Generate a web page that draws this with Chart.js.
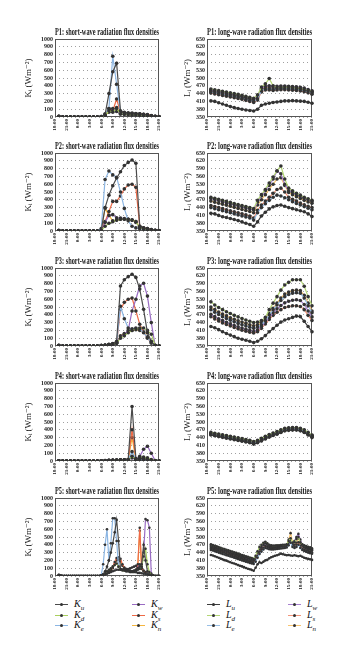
<!DOCTYPE html>
<html>
<head>
<meta charset="utf-8">
<script src="https://cdn.jsdelivr.net/npm/chart.js@4.4.1/dist/chart.umd.min.js"></script>
<style>
  body { margin: 0; background: #fff; width: 351px; height: 660px; position: relative; overflow: hidden; }
  canvas { position: absolute; }
  .it { position: absolute; height: 12px; width: 40px; }
  .it .ln { position: absolute; left: 0; top: 5.5px; width: 13px; height: 1.6px; }
  .it .dt { position: absolute; left: 5px; top: 4.8px; width: 3px; height: 3px; border-radius: 50%; background: #333; }
  .it .tx { position: absolute; left: 19px; top: 0; font: italic 10px "Liberation Serif", serif; line-height: 12px; color: #111; }
  .it .tx sub { font-size: 7px; color: #111; }
</style>
</head>
<body>
<script>
// time axis
const hours = ['18:00','19:00','20:00','21:00','22:00','23:00','0:00','1:00','2:00','3:00','4:00','5:00','6:00','7:00',
  '8:00','9:00','10:00','11:00','12:00','13:00','14:00','15:00','16:00','17:00','18:00','19:00','20:00','21:00'];
const halfHours = ['18:00','18:30','19:00','19:30','20:00','20:30','21:00','21:30','22:00','22:30','23:00','23:30',
  '0:00','0:30','1:00','1:30','2:00','2:30','3:00','3:30','4:00','4:30','5:00','5:30','6:00','6:30','7:00','7:30',
  '8:00','8:30','9:00','9:30','10:00','10:30','11:00','11:30','12:00','12:30','13:00','13:30','14:00','14:30',
  '15:00','15:30','16:00','16:30','17:00','17:30','18:00','18:30','19:00','19:30','20:00','20:30','21:00'];
const tickLabels = ['18:00','21:00','0:00','3:00','6:00','9:00','12:00','15:00','18:00','21:00'];

const swTicks = [0,100,200,300,400,500,600,700,800,900,1000];
const lwTicks = [350,380,410,440,470,500,530,560,590,620,650];

const dirs = ['u','d','e','w','s','n'];
const swColors = ['#4a4a4a','#a9cf5e','#8cb6e3','#9a6cc4','#ee6a47','#f5b640'];
const lwColors = ['#3c3c3c','#b3d674','#98bfe6','#a880d0','#f2967a','#f8c470'];

// P1
const p1Ku = [null,8,2,0,0,0,0,0,0,0,0,0,5,30,300,580,690,80,60,55,50,45,40,35,25,15,5,2];
const p1Kd = [null,5,0,0,0,0,0,0,0,0,0,0,3,20,80,60,110,40,35,30,30,30,25,20,15,10,5,0];
const p1Ke = [null,5,0,0,0,0,0,0,0,0,0,0,5,40,110,780,420,50,40,35,30,30,25,25,20,15,5,0];
const p1Kw = [null,5,0,0,0,0,0,0,0,0,0,0,3,25,100,110,70,40,35,35,30,30,25,20,15,10,5,0];
const p1Ks = [null,5,0,0,0,0,0,0,0,0,0,0,5,30,110,80,230,60,50,45,45,40,40,35,30,20,10,5];
const p1Kn = [null,8,0,0,0,0,0,0,0,0,0,0,3,25,60,100,120,55,50,45,40,40,35,30,25,15,8,3];

const p1Lu = [null,412,410,405,400,395,390,386,383,380,377,375,373,380,395,400,403,406,408,410,412,412,413,412,411,410,407,403];
const p1Ld = [null,458,455,452,449,446,443,440,437,434,430,426,422,435,465,478,498,470,463,464,465,465,464,463,461,458,453,448];
const p1Le = [null,446,443,440,437,434,431,428,425,422,418,414,410,420,450,458,458,456,458,459,459,458,457,456,454,451,447,442];
const p1Lw = [null,454,451,448,445,442,439,436,433,430,426,422,418,430,460,468,470,466,468,469,469,468,467,466,464,461,456,451];
const p1Ls = [null,442,439,436,433,430,427,424,421,418,414,410,406,415,446,454,454,452,454,455,455,454,453,452,450,447,443,438];
const p1Ln = [null,450,447,444,441,438,435,432,429,426,422,418,414,425,455,462,462,460,462,463,463,462,461,460,458,455,451,446];

// P2
const p2Ku = [null,5,0,0,0,0,0,0,0,0,0,0,10,300,460,580,680,760,840,880,910,870,60,40,30,20,10,3];
const p2Kd = [null,5,0,0,0,0,0,0,0,0,0,0,5,60,100,120,140,150,150,150,140,120,40,30,20,10,5,2];
const p2Ke = [null,5,0,0,0,0,0,0,0,0,0,0,30,660,770,720,690,500,290,130,60,40,30,25,15,10,5,2];
const p2Kw = [null,5,0,0,0,0,0,0,0,0,0,0,10,110,200,210,170,165,160,150,140,110,50,30,20,10,5,2];
const p2Ks = [null,5,0,0,0,0,0,0,0,0,0,0,20,120,250,380,380,450,540,590,600,560,60,40,30,20,10,5];
const p2Kn = [null,5,0,0,0,0,0,0,0,0,0,0,10,290,200,130,140,150,150,150,140,120,50,30,20,10,5,2];

const p2Lu = [null,418,416,410,405,402,398,394,390,385,380,375,368,385,408,422,435,443,448,450,445,440,436,432,428,424,416,406];
const p2Ld = [null,480,476,472,468,464,460,456,452,448,444,440,436,468,490,510,535,558,582,600,550,515,505,495,488,480,474,468];
const p2Le = [null,440,436,432,428,424,420,416,412,408,404,400,392,420,440,455,468,480,488,485,478,470,463,456,450,444,438,432];
const p2Lw = [null,475,471,467,463,459,455,451,447,443,439,435,431,462,485,505,525,550,580,570,530,505,498,490,483,476,470,464];
const p2Ls = [null,448,444,440,436,432,428,424,420,416,412,408,400,430,450,465,480,495,510,515,500,480,472,465,458,451,445,440];
const p2Ln = [null,465,461,457,453,449,445,441,437,433,429,425,420,450,470,490,510,530,550,555,525,498,490,482,475,468,462,457];

// P3
const p3Ku = [null,10,0,0,0,0,0,0,0,0,0,0,5,10,20,30,60,770,850,890,920,880,730,470,170,60,5,0];
const p3Kd = [null,5,0,0,0,0,0,0,0,0,0,0,5,10,20,25,40,100,130,170,200,220,230,230,200,150,10,0];
const p3Ke = [null,5,0,0,0,0,0,0,0,0,0,0,5,10,20,25,40,510,350,230,220,230,220,170,110,40,5,0];
const p3Kw = [null,5,0,0,0,0,0,0,0,0,0,0,5,10,20,25,40,120,150,200,450,600,770,805,640,300,5,0];
const p3Ks = [null,5,0,0,0,0,0,0,0,0,0,0,5,10,20,25,40,470,560,600,615,450,280,180,100,40,5,0];
const p3Kn = [null,5,0,0,0,0,0,0,0,0,0,0,5,10,20,25,40,130,160,180,200,210,200,180,120,50,5,0];

const p3Lu = [null,425,420,413,405,398,392,386,380,376,372,368,363,368,378,390,405,417,430,442,450,455,460,465,463,445,425,405];
const p3Ld = [null,520,508,498,490,482,475,468,462,456,450,445,440,442,448,460,490,515,540,565,585,595,605,605,605,580,540,505];
const p3Le = [null,490,480,471,463,456,449,443,437,432,427,422,418,423,432,448,470,490,508,525,540,548,553,555,553,535,505,478];
const p3Lw = [null,472,463,455,448,441,435,429,424,419,414,410,406,412,425,442,460,478,493,506,516,522,526,528,525,510,485,462];
const p3Ls = [null,463,454,446,439,433,427,421,416,411,407,403,400,405,418,435,452,468,480,490,498,502,505,505,502,490,468,448];
const p3Ln = [null,500,490,481,473,466,459,453,447,442,437,432,428,432,440,452,475,495,515,535,550,558,563,565,563,545,515,485];

// P4
const p4Ku = [null,3,0,0,0,0,0,0,0,0,0,0,3,5,8,10,12,14,15,20,700,30,35,30,20,10,3,0];
const p4Kd = [null,3,0,0,0,0,0,0,0,0,0,0,2,4,6,8,10,12,12,15,60,25,40,50,40,20,3,0];
const p4Ke = [null,3,0,0,0,0,0,0,0,0,0,0,3,5,8,10,12,13,14,15,120,20,20,15,10,5,2,0];
const p4Kw = [null,3,0,0,0,0,0,0,0,0,0,0,2,4,6,8,10,12,13,15,40,20,60,150,190,100,5,0];
const p4Ks = [null,3,0,0,0,0,0,0,0,0,0,0,2,4,6,8,10,12,13,15,400,20,25,20,15,8,2,0];
const p4Kn = [null,3,0,0,0,0,0,0,0,0,0,0,2,4,6,8,10,12,13,15,300,20,25,20,15,8,2,0];

const p4Lu = [null,450,447,444,441,438,435,432,429,426,423,420,415,420,427,435,442,448,453,460,466,468,469,469,466,460,450,440];
const p4Ld = [null,460,457,454,451,448,445,442,439,436,433,430,425,430,437,445,452,458,463,470,476,478,479,479,476,470,460,450];
const p4Le = [null,454,451,448,445,442,439,436,433,430,427,424,419,424,431,439,446,452,457,464,470,472,473,473,470,464,454,444];
const p4Lw = [null,458,455,452,449,446,443,440,437,434,431,428,423,428,435,443,450,456,461,468,474,476,477,477,474,468,458,448];
const p4Ls = [null,452,449,446,443,440,437,434,431,428,425,422,417,422,429,437,444,450,455,462,468,470,471,471,468,462,452,442];
const p4Ln = [null,456,453,450,447,444,441,438,435,432,429,426,421,426,433,441,448,454,459,466,472,474,475,475,472,466,456,446];

// P5 (half-hourly)
const p5Ku = [null,null,15,5,0,0,0,0,0,0,0,
  0,0,0,0,0,0,0,0,0,0,0,
  0,0,5,20,60,120,200,300,420,560,720,
  450,90,80,80,70,70,60,60,70,80,100,
  120,150,400,200,60,20,10,5,0,0,0];
const p5Kd = [null,null,10,3,0,0,0,0,0,0,0,
  0,0,0,0,0,0,0,0,0,0,0,
  0,0,3,15,40,60,80,100,120,140,160,
  120,80,70,70,60,60,55,55,60,70,80,
  90,120,250,350,150,50,20,5,0,0,0];
const p5Ke = [null,null,12,4,0,0,0,0,0,0,0,
  0,0,0,0,0,0,0,0,0,0,0,
  0,0,10,150,400,600,200,420,740,740,450,
  120,90,80,70,60,60,50,50,50,50,40,
  40,35,30,25,20,10,5,0,0,0,0];
const p5Kw = [null,null,8,3,0,0,0,0,0,0,0,
  0,0,0,0,0,0,0,0,0,0,0,
  0,0,3,10,20,30,40,50,60,70,80,
  80,80,80,80,90,90,100,110,120,130,100,
  150,120,300,730,715,620,30,5,0,0,0];
const p5Ks = [null,null,10,3,0,0,0,0,0,0,0,
  0,0,0,0,0,0,0,0,0,0,0,
  0,0,5,20,40,50,60,80,120,180,230,
  240,220,150,110,90,80,70,60,60,70,150,
  620,100,70,50,30,15,5,0,0,0,0];
const p5Kn = [null,null,12,4,0,0,0,0,0,0,0,
  0,0,0,0,0,0,0,0,0,0,0,
  0,0,5,20,40,50,60,70,100,150,200,
  210,190,130,100,80,70,60,55,55,65,120,
  580,90,60,40,25,10,5,0,0,0,0];

const p5Lu = [null,null,431,429,426,423,420,417,414,411,409,
  406,403,400,398,395,392,389,387,384,381,378,
  376,373,370,382,395,403,400,405,410,412,418,
  422,425,428,430,433,436,434,432,430,431,429,
  428,430,428,426,428,424,420,418,416,414,412];
const p5Ld = [null,null,472,469,466,464,461,459,456,454,451,
  449,446,444,441,439,436,434,431,429,426,424,
  421,419,416,428,445,462,470,478,482,476,470,
  468,467,467,468,468,469,470,470,472,485,495,
  478,480,492,500,480,472,468,465,462,460,457];
const p5Le = [null,null,450,448,445,443,440,438,435,433,430,
  428,425,423,420,418,415,413,410,408,405,403,
  400,398,396,405,420,435,444,452,458,456,453,
  452,452,453,454,455,456,457,458,460,468,478,
  462,458,462,470,458,450,446,443,440,438,436];
const p5Lw = [null,null,466,463,461,458,456,453,451,448,446,
  443,441,438,436,433,431,428,426,423,421,418,
  416,413,411,422,440,455,462,470,475,470,465,
  463,462,462,463,464,465,466,467,468,478,488,
  472,485,500,512,490,470,463,460,457,454,452];
const p5Ls = [null,null,456,453,451,448,446,443,441,438,436,
  433,431,428,426,423,421,418,416,413,411,408,
  406,403,401,410,428,442,450,458,465,462,458,
  457,457,458,459,460,461,462,463,465,475,485,
  468,462,470,480,465,456,452,449,446,443,441];
const p5Ln = [null,null,462,459,457,454,452,449,447,444,442,
  439,437,434,432,429,427,424,422,419,417,414,
  412,409,407,418,435,450,458,468,480,472,464,
  462,461,461,462,463,464,465,466,470,490,515,
  480,470,478,495,475,465,460,457,454,451,449];

const panels = [
  { sw: [p1Ku,p1Kd,p1Ke,p1Kw,p1Ks,p1Kn], lw: [p1Lu,p1Ld,p1Le,p1Lw,p1Ls,p1Ln], labels: hours },
  { sw: [p2Ku,p2Kd,p2Ke,p2Kw,p2Ks,p2Kn], lw: [p2Lu,p2Ld,p2Le,p2Lw,p2Ls,p2Ln], labels: hours },
  { sw: [p3Ku,p3Kd,p3Ke,p3Kw,p3Ks,p3Kn], lw: [p3Lu,p3Ld,p3Le,p3Lw,p3Ls,p3Ln], labels: hours },
  { sw: [p4Ku,p4Kd,p4Ke,p4Kw,p4Ks,p4Kn], lw: [p4Lu,p4Ld,p4Le,p4Lw,p4Ls,p4Ln], labels: hours },
  { sw: [p5Ku,p5Kd,p5Ke,p5Kw,p5Ks,p5Kn], lw: [p5Lu,p5Ld,p5Le,p5Lw,p5Ls,p5Ln], labels: halfHours },
];

const plotTops = [39, 153, 268, 383, 498];
const serif = '"Liberation Serif", "DejaVu Serif", serif';

// plot frame
const frame = {
  id: 'frame',
  beforeDatasetsDraw(chart) {
    const a = chart.chartArea, c = chart.ctx;
    c.save();
    c.strokeStyle = '#555';
    c.lineWidth = 1;
    c.strokeRect(Math.round(a.left) + 0.5, Math.round(a.top) + 0.5,
      Math.round(a.right - a.left) - 1, Math.round(a.bottom - a.top) - 1);
    c.restore();
  }
};

function makeChart(p, col) {
  const pan = panels[p];
  const isSw = col === 0;
  const series = isSw ? pan.sw : pan.lw;
  const colors = isSw ? swColors : lwColors;
  const letter = isSw ? 'K' : 'L';
  const step = pan.labels.length > 30 ? 6 : 3;
  const cv = document.createElement('canvas');
  const left = isSw ? 14 : 175;
  const w = isSw ? 153 : 145;
  cv.width = w; cv.height = 110;
  cv.style.left = left + 'px';
  cv.style.top = (plotTops[p] - 12) + 'px';
  cv.style.width = w + 'px'; cv.style.height = '110px';
  document.body.appendChild(cv);

  const ticks = isSw ? swTicks : lwTicks;
  const padL = isSw ? 9 : 7;   // room left of the rotated axis title
  new Chart(cv, {
    type: 'line',
    data: {
      labels: pan.labels,
      datasets: series.map((d, i) => ({
        label: letter + dirs[i],
        data: d,
        borderColor: colors[i],
        backgroundColor: colors[i],
        borderWidth: 1.2,
        pointRadius: p === 4 ? 1.3 : 1.8,
        pointBackgroundColor: '#333',
        pointBorderColor: '#333',
        pointBorderWidth: 0,
        tension: 0,
      })),
    },
    options: {
      responsive: false,
      animation: false,
      devicePixelRatio: 1,
      layout: { padding: { left: padL, top: 0, right: 0, bottom: 0 } },
      plugins: {
        legend: { display: false },
        tooltip: { enabled: false },
        title: {
          display: true,
          fullSize: false,
          text: 'P' + (p + 1) + ': ' + (isSw ? 'short' : 'long') + '-wave radiation flux densities',
          color: '#1a1a1a',
          font: { family: serif, size: 9.8, weight: 'bold' },
          padding: { top: 0, bottom: 0.3 },
        },
      },
      scales: {
        x: {
          grid: { display: false, drawTicks: false },
          border: { display: false },
          afterFit: (a) => { a.height = 20; },
          ticks: {
            autoSkip: false,
            minRotation: 90,
            maxRotation: 90,
            padding: 2,
            color: '#222',
            font: { family: serif, size: 5, weight: 'bold' },
            callback: (v, i) => (i % step === 0 ? tickLabels[i / step] : ''),
          },
        },
        y: {
          min: ticks[0],
          max: ticks[ticks.length - 1],
          afterFit: (a) => { a.width = (isSw ? 41 : 32) - padL; },
          afterBuildTicks: (a) => { a.ticks = ticks.map((v) => ({ value: v })); },
          grid: { color: '#888', drawTicks: false, lineWidth: 0.8 },
          border: { display: false, dash: [1, 3] },
          ticks: {
            autoSkip: false,
            padding: 2,
            color: '#222',
            font: { family: serif, size: 6, weight: 'bold' },
            callback: (v) => String(v),
          },
          title: {
            display: true,
            text: letter + 'ᵢ (Wm⁻²)',
            color: '#222',
            font: { family: serif, size: 9 },
            padding: 0,
          },
        },
      },
    },
    plugins: [frame],
  });
}

for (let p = 0; p < 5; p++) { makeChart(p, 0); makeChart(p, 1); }

// shared legends under each column
const legendRows = [604, 615, 625];
function legend(letter, colors, cols) {
  dirs.forEach((d, i) => {
    const el = document.createElement('div');
    el.className = 'it';
    el.style.left = cols[Math.floor(i / 3)] + 'px';
    el.style.top = (legendRows[i % 3] - 6) + 'px';
    el.innerHTML = '<span class="ln" style="background:' + colors[i] + '"></span><span class="dt"></span>' +
      '<span class="tx">' + letter + '<sub>' + d + '</sub></span>';
    document.body.appendChild(el);
  });
}
legend('K', swColors, [55, 132]);
legend('L', lwColors, [207, 288]);
</script>
</body>
</html>
